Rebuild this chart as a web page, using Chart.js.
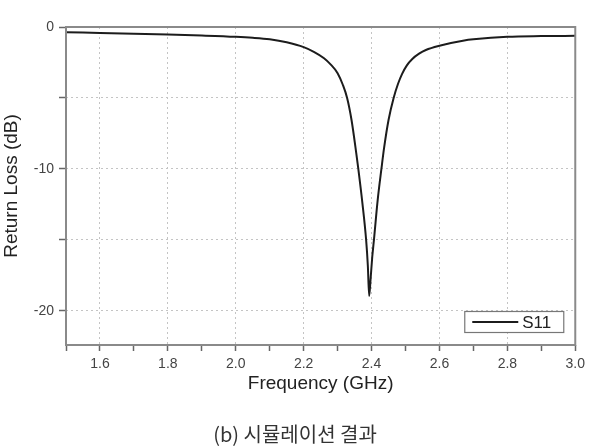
<!DOCTYPE html>
<html>
<head>
<meta charset="utf-8">
<script src="https://cdn.jsdelivr.net/npm/chart.js@4/dist/chart.umd.min.js"></script>
<style>
    body { margin: 0; background: #fff; }
    #wrap { position: relative; width: 590px; height: 447px; }
    #wrap canvas { position: absolute; left: 0; top: 0; }
    #caption {
        position: absolute; left: 0; top: 423px; width: 590px;
        text-align: center; line-height: 22px;
        font-family: "Noto Sans CJK KR", sans-serif; font-size: 20px; color: #333;
    }
</style>
</head>
<body>
<div id="wrap">
    <canvas id="s11Chart" width="590" height="447"></canvas>
    <div id="caption">(b) 시뮬레이션 결과</div>
</div>
<script>
// simulated return loss
const freq = [1.50, 1.60, 1.70, 1.80, 1.90, 2.00, 2.05, 2.10, 2.15, 2.20, 2.23, 2.26, 2.28, 2.30,
    2.315, 2.328, 2.341, 2.355, 2.361, 2.373, 2.384, 2.389, 2.393, 2.397, 2.402, 2.407,
    2.418, 2.429, 2.437, 2.450, 2.465, 2.478, 2.49, 2.504, 2.52, 2.54, 2.56, 2.60, 2.673, 2.70,
    2.80, 2.90, 3.00];
const s11 = [-0.37, -0.42, -0.47, -0.53, -0.60, -0.69, -0.76, -0.87, -1.08, -1.42, -1.75, -2.20, -2.65, -3.25,
    -4.05, -5.00, -6.55, -8.90, -10.0, -12.4, -15.0, -16.8, -18.95, -17.8, -16.2, -15.0,
    -12.2, -10.0, -8.5, -6.55, -5.00, -4.00, -3.30, -2.70, -2.25, -1.88, -1.62, -1.32, -0.95, -0.87,
    -0.69, -0.64, -0.62];
const xTicks = [1.5, 1.6, 1.7, 1.8, 1.9, 2.0, 2.1, 2.2, 2.3, 2.4, 2.5, 2.6, 2.7, 2.8, 2.9, 3.0];
const yTicks = [0, -5, -10, -15, -20];

const frameColor = '#8a8a8a';
const gridColor = '#c4c4c4';

// box round the plot area + legend in the lower right corner
const framePlugin = {
    id: 'frame',
    afterDatasetsDraw(chart) {
        const { ctx, chartArea: a } = chart;
        ctx.save();
        ctx.strokeStyle = frameColor;
        ctx.lineWidth = 2;
        ctx.strokeRect(a.left, a.top, a.right - a.left, a.bottom - a.top);

        const ds = chart.data.datasets[0];
        const bx = a.right - 111, by = a.bottom - 34, bw = 99, bh = 21;
        ctx.fillStyle = '#fff';
        ctx.fillRect(bx, by, bw, bh);
        ctx.lineWidth = 1.2;
        ctx.strokeStyle = '#777';
        ctx.strokeRect(bx + 0.5, by + 0.5, bw, bh);
        ctx.strokeStyle = ds.borderColor;
        ctx.lineWidth = 2;
        ctx.beginPath();
        ctx.moveTo(bx + 8, by + 11);
        ctx.lineTo(bx + 54, by + 11);
        ctx.stroke();
        ctx.fillStyle = '#222';
        ctx.font = '17px "Liberation Sans", Arial';
        ctx.textBaseline = 'middle';
        ctx.fillText(ds.label, bx + 58, by + 12);
        ctx.restore();
    }
};

Chart.defaults.font.family = '"Liberation Sans", Arial, sans-serif';

new Chart(document.getElementById('s11Chart'), {
    type: 'line',
    data: {
        datasets: [{
            label: 'S11',
            data: freq.map((f, i) => ({ x: f, y: s11[i] })),
            borderColor: '#1c1c1c',
            borderWidth: 2,
            pointRadius: 0,
            cubicInterpolationMode: 'monotone',
            fill: false
        }]
    },
    options: {
        responsive: false,
        animation: false,
        layout: { padding: { top: 27, right: 11, left: 0, bottom: 47 } },
        plugins: { legend: { display: false }, tooltip: { enabled: false } },
        scales: {
            x: {
                type: 'linear',
                min: 1.5,
                max: 3.0,
                afterBuildTicks: s => { s.ticks = xTicks.map(v => ({ value: v })); },
                afterFit: s => { s.height = 55; },
                ticks: {
                    color: '#444',
                    font: { size: 14 },
                    padding: 5,
                    maxRotation: 0,
                    autoSkip: false,
                    callback: v => {
                        const k = Math.round(v * 10);
                        return (k % 2 === 0 && k !== 15 && k !== 14) ? v.toFixed(1) : '';
                    }
                },
                grid: {
                    color: c => (Math.round(c.tick.value * 10) % 2 === 0) ? gridColor : 'rgba(0,0,0,0)',
                    lineWidth: 1,
                    tickColor: '#666',
                    tickLength: 6,
                    tickBorderDash: [],
                    tickWidth: 1.5
                },
                border: { display: false, dash: [2, 3] },
                title: {
                    display: true,
                    text: 'Frequency (GHz)',
                    color: '#222',
                    font: { size: 19 },
                    padding: { top: 4, bottom: 5 }
                }
            },
            y: {
                min: -22.4,
                max: 0,
                afterBuildTicks: s => { s.ticks = yTicks.map(v => ({ value: v })); },
                afterFit: s => { s.width = 66; },
                ticks: {
                    color: '#444',
                    font: { size: 14 },
                    padding: 5,
                    callback: v => (v % 10 === 0) ? String(v) : ''
                },
                grid: {
                    color: gridColor,
                    lineWidth: 1,
                    tickColor: '#666',
                    tickLength: 7,
                    tickBorderDash: [],
                    tickWidth: 1.5
                },
                border: { display: false, dash: [2, 3] },
                title: {
                    display: true,
                    text: 'Return Loss (dB)',
                    color: '#222',
                    font: { size: 19 },
                    padding: { top: 0, bottom: 0 }
                }
            }
        }
    },
    plugins: [framePlugin]
});
</script>
</body>
</html>
